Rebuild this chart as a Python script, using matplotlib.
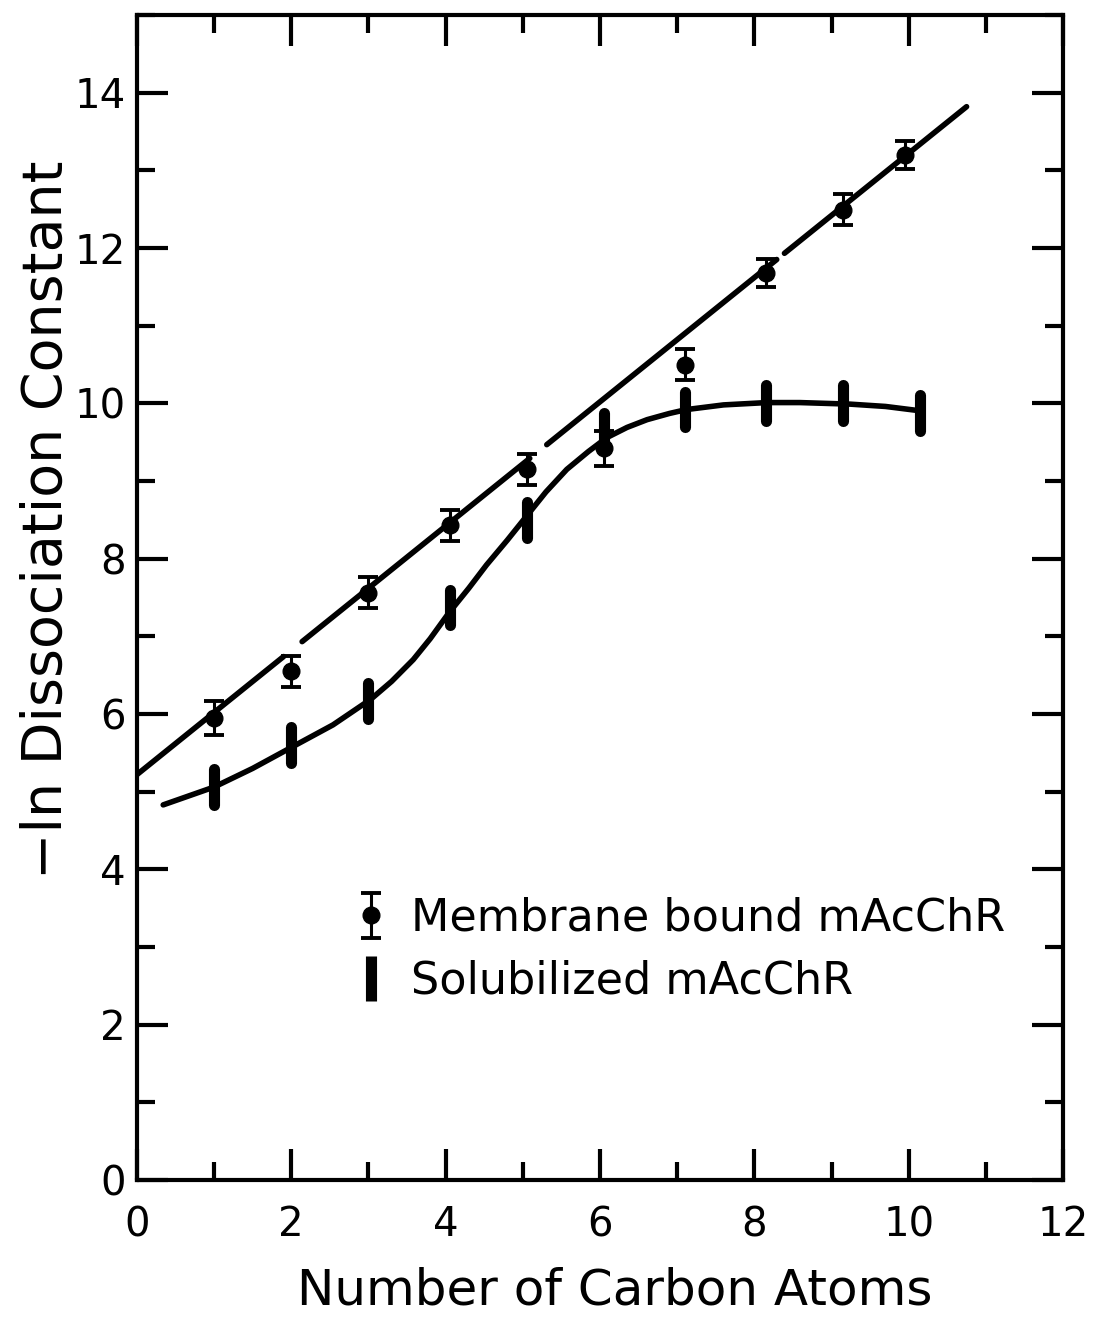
import numpy as np
import matplotlib
matplotlib.use("Agg")
import matplotlib.pyplot as plt
from matplotlib.ticker import MultipleLocator

# membrane bound mAcChR (circles with error bars)
mem_x = [1.0, 2.0, 3.0, 4.05, 5.05, 6.05, 7.1, 8.15, 9.15, 9.95]
mem_y = [5.95, 6.55, 7.56, 8.43, 9.15, 9.42, 10.50, 11.68, 12.49, 13.20]
mem_err = [0.22, 0.20, 0.20, 0.20, 0.20, 0.23, 0.20, 0.18, 0.20, 0.18]

# straight fit drawn through membrane points, broken in a few places
fit_intercept = 5.22
fit_slope = 0.80
fit_segments = [(0.0, 1.9), (2.14, 5.09), (5.31, 8.29), (8.39, 10.75)]

# solubilized mAcChR (bars)
sol_x = [1.0, 2.0, 3.0, 4.05, 5.05, 6.05, 7.1, 8.15, 9.15, 10.15]
sol_y = [5.06, 5.60, 6.17, 7.37, 8.50, 9.64, 9.92, 10.00, 10.00, 9.88]
sol_err = 0.23

# hand drawn smooth curve through the solubilized points
curve_x = [0.34, 1.0, 1.5, 2.0, 2.54, 3.03, 3.3, 3.58, 3.8, 4.04, 4.3, 4.53,
           4.8, 5.05, 5.3, 5.57, 5.85, 6.09, 6.35, 6.61, 6.9, 7.12, 7.6,
           8.16, 8.59, 9.24, 9.7, 10.18]
curve_y = [4.83, 5.06, 5.30, 5.57, 5.86, 6.19, 6.42, 6.70, 6.97, 7.30, 7.62, 7.92,
           8.24, 8.55, 8.86, 9.15, 9.38, 9.56, 9.69, 9.79, 9.87, 9.92, 9.98,
           10.01, 10.01, 9.99, 9.96, 9.90]

xlabel = "Number of Carbon Atoms"
ylabel = "\u2212ln Dissociation Constant"
labels = ["Membrane bound mAcChR", "Solubilized mAcChR"]

plt.rcParams['font.family'] = ['DejaVu Sans']
fig = plt.figure(figsize=(10.93, 13.18), dpi=100)
ax = fig.add_axes([0.1253, 0.1047, 0.8473, 0.8839])

lw = 4.0
for a, b in fit_segments:
    xs = np.array([a, b])
    ax.plot(xs, fit_intercept + fit_slope * xs, color="black", lw=lw,
            solid_capstyle="round")

ax.plot(curve_x, curve_y, color="black", lw=lw, solid_capstyle="round",
        solid_joinstyle="round")

h_mem = ax.errorbar(mem_x, mem_y, yerr=mem_err, fmt="o", color="black",
                    ms=12, elinewidth=2.2, capsize=7, capthick=2.8)
h_sol = ax.errorbar(sol_x, sol_y, yerr=sol_err, fmt="none", ecolor="black",
                    elinewidth=8, capsize=0)
for lc in h_sol.lines[2]:
    lc.set_capstyle("round")

ax.set_xlim(0, 12)
ax.set_ylim(0, 15)
ax.xaxis.set_major_locator(MultipleLocator(2))
ax.xaxis.set_minor_locator(MultipleLocator(1))
ax.yaxis.set_major_locator(MultipleLocator(2))
ax.yaxis.set_minor_locator(MultipleLocator(1))
ax.set_yticks([0, 2, 4, 6, 8, 10, 12, 14])

ax.tick_params(which="both", direction="in", top=True, right=True, width=3,
               labelsize=29)
ax.tick_params(which="major", length=22)
ax.tick_params(which="minor", length=13)
ax.tick_params(axis="x", pad=18)
ax.tick_params(axis="y", pad=8)
for s in ax.spines.values():
    s.set_linewidth(3)

ax.set_xlabel(xlabel, fontsize=36)
ax.xaxis.set_label_coords(0.516, -0.074)
ax.set_ylabel(ylabel, fontsize=40)
ax.yaxis.set_label_coords(-0.068, 0.567)

leg = ax.legend([h_mem, h_sol], labels, loc="upper left",
                bbox_to_anchor=(0.238, 0.243), frameon=False, fontsize=32,
                handlelength=0.6, handletextpad=0.6, labelspacing=0.45,
                borderpad=0, borderaxespad=0)

fig.savefig("out.png", dpi=100)
